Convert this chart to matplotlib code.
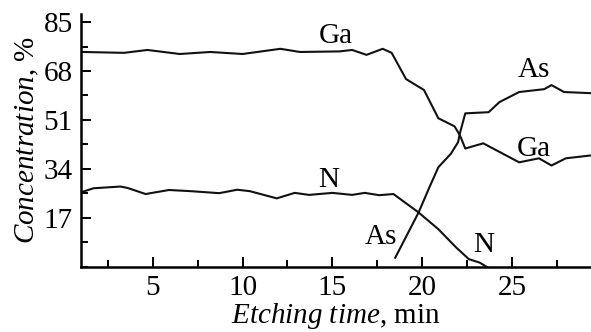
import numpy as np
import matplotlib
matplotlib.use("Agg")
import matplotlib.pyplot as plt
from matplotlib.ticker import MultipleLocator

plt.rcParams["font.family"] = "Liberation Serif"
plt.rcParams["mathtext.fontset"] = "custom"
plt.rcParams["mathtext.rm"] = "Liberation Serif"
plt.rcParams["mathtext.it"] = "Liberation Serif:italic"

# Ga profile
ga_t = [1.1, 3.4, 4.7, 6.5, 8.2, 10.0, 12.1, 13.2, 15.4, 16.1, 16.9, 17.8, 18.3,
        19.1, 20.1, 20.9, 21.8, 22.1, 22.4, 23.4, 25.4, 26.5, 27.2, 28.0, 29.4]
ga_c = [74.6, 74.3, 75.3, 73.9, 74.6, 73.9, 75.7, 74.6, 74.8, 75.3, 73.6, 75.7, 74.3,
        65.2, 61.4, 51.6, 48.8, 45.7, 41.1, 42.9, 36.3, 37.7, 35.2, 37.7, 38.7]

# As profile
as_t = [18.5, 19.8, 20.4, 20.9, 21.6, 22.0, 22.1, 22.4, 23.7, 24.3, 25.4, 26.8,
        27.2, 27.9, 29.4]
as_c = [3.2, 18.9, 27.6, 34.6, 39.3, 43.3, 46.4, 53.3, 53.7, 57.2, 60.7, 61.7,
        63.1, 60.7, 60.3]

# N profile
n_t = [1.0, 1.7, 3.2, 3.6, 4.6, 5.9, 7.1, 8.7, 9.7, 10.4, 11.9, 12.9, 13.7, 15.0,
       16.1, 16.8, 17.6, 18.4, 19.8, 20.9, 21.9, 22.6, 23.2, 23.6]
n_c = [25.9, 27.3, 27.9, 27.4, 25.3, 26.7, 26.3, 25.6, 26.8, 26.3, 23.8, 25.7, 25.0,
       25.7, 25.0, 25.7, 24.9, 25.3, 18.9, 13.1, 6.7, 2.7, 1.5, 0.0]

y_ticks = [17, 34, 51, 68, 85]
x_ticks = [5, 10, 15, 20, 25]

fig = plt.figure(figsize=(5.91, 3.32), dpi=100)
ax = fig.add_axes([0.137, 0.196, 0.863, 0.762])

lw = 1.5
for t, c in [(ga_t, ga_c), (as_t, as_c), (n_t, n_c)]:
    ax.plot(t, c, color="#111111", lw=lw, solid_joinstyle="round")

fs = 21
ax.text(15.2, 80, "Ga", fontsize=fs, ha="center", va="center")
ax.text(26.2, 68.3, "As", fontsize=fs, ha="center", va="center")
ax.text(26.2, 41, "Ga", fontsize=fs, ha="center", va="center")
ax.text(14.8, 30, "N", fontsize=fs, ha="center", va="center")
ax.text(17.7, 10.5, "As", fontsize=fs, ha="center", va="center")
ax.text(23.4, 7.5, "N", fontsize=fs, ha="center", va="center")

ax.set_xlim(1, 29.4)
ax.set_ylim(0, 87.8)
ax.set_xticks(x_ticks)
ax.set_yticks(y_ticks)
ax.xaxis.set_minor_locator(MultipleLocator(2.5))
ax.yaxis.set_minor_locator(MultipleLocator(8.5))
ax.tick_params(which="major", direction="in", length=7, width=1.4, labelsize=fs, pad=6)
ax.tick_params(which="minor", direction="in", length=5, width=1.4)

for s in ["top", "right"]:
    ax.spines[s].set_visible(False)
for s in ["left", "bottom"]:
    ax.spines[s].set_linewidth(1.8)

ax.set_xlabel(r"$\it{Etching\ time}$, min", fontsize=fs, labelpad=0)
ax.set_ylabel(r"$\it{Concentration}$, %", fontsize=fs, labelpad=2)

fig.savefig("out.png", dpi=100)
